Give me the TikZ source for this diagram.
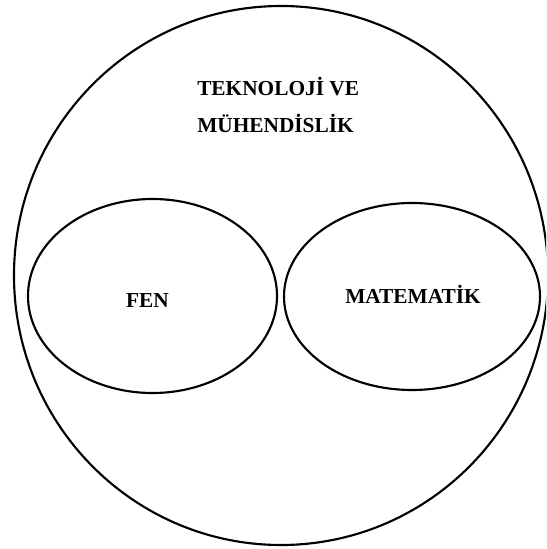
\documentclass[tikz,border=0pt]{standalone}
\usepackage{fontspec}
\setmainfont{Liberation Serif}
\tikzset{
  ring/.style={draw=black, line width=1.6pt},
  lbl/.style={inner sep=0pt, font=\bfseries\fontsize{16}{27.5}\selectfont}
}
\begin{document}
\begin{tikzpicture}[x=0.75pt,y=-0.75pt]
\useasboundingbox (0,0) rectangle (546,549);
\clip (0,0) rectangle (546,549);
\draw[ring] (281,275.5) ellipse [x radius=267, y radius=269.5];
\draw[ring] (152.5,296) ellipse [x radius=124.5, y radius=97];
\draw[ring] (412,296.5) ellipse [x radius=128, y radius=93.5];
\node[lbl, align=left, anchor=north west] (tm) at (197,77) {TEKNOLOJİ VE\\MÜHENDİSLİK};
\node[lbl, anchor=base] (fen) at (147.5,307) {FEN};
\node[lbl, anchor=base] (mat) at (413,303) {MATEMATİK};
\end{tikzpicture}
\end{document}
